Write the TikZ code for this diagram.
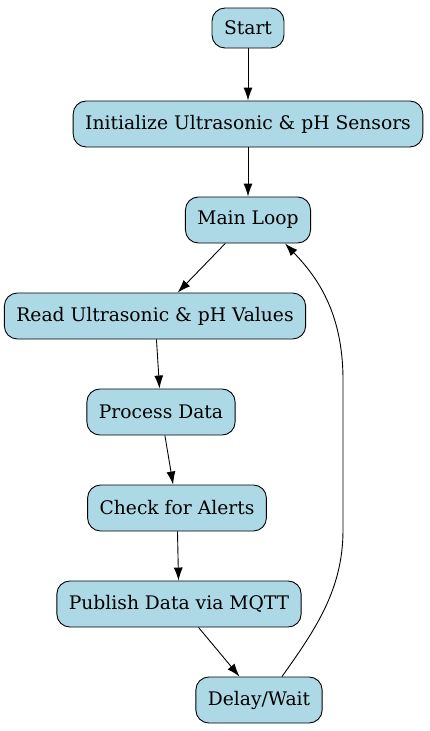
\documentclass[tikz,border=0pt]{standalone}
\usepackage{fontspec}
\setmainfont{DejaVu Serif}
\usetikzlibrary{arrows.meta}
\definecolor{lightblue}{RGB}{173,216,230}
\tikzset{>={Latex[length=13pt,width=9pt]}}
\tikzset{stepbox/.style={draw=black, line width=0.9pt, fill=lightblue, rounded corners=13pt, minimum height=46pt, inner xsep=12pt, font=\fontsize{18.7pt}{22pt}\selectfont}}

\begin{document}
\begin{tikzpicture}[x=1pt, y=-1pt, line width=0.9pt]
\useasboundingbox (0,0) rectangle (429,731);
\node[stepbox, minimum height=40pt] (start) at (248,28) {Start};
\node[stepbox] (init) at (248,124) {Initialize Ultrasonic \& pH Sensors};
\node[stepbox] (main) at (248,220) {Main Loop};
\node[stepbox] (read) at (155,316) {Read Ultrasonic \& pH Values};
\node[stepbox] (proc) at (161,412) {Process Data};
\node[stepbox] (check) at (177,508) {Check for Alerts};
\node[stepbox] (pub) at (179,604) {Publish Data via MQTT};
\node[stepbox] (wait) at (259,700) {Delay/Wait};
\draw[->] (start) -- (init);
\draw[->] (init) -- (main);
\draw[->] (main) -- (read);
\draw[->] (read) -- (proc);
\draw[->] (proc) -- (check);
\draw[->] (check) -- (pub);
\draw[->] (pub) -- (wait);
\draw[->] ([xshift=23pt]wait.north) .. controls (315,630) and (343,590) .. (343,530)
  -- (343,380) .. controls (343,310) and (315,275) .. ([xshift=37pt]main.south);
\end{tikzpicture}
\end{document}
